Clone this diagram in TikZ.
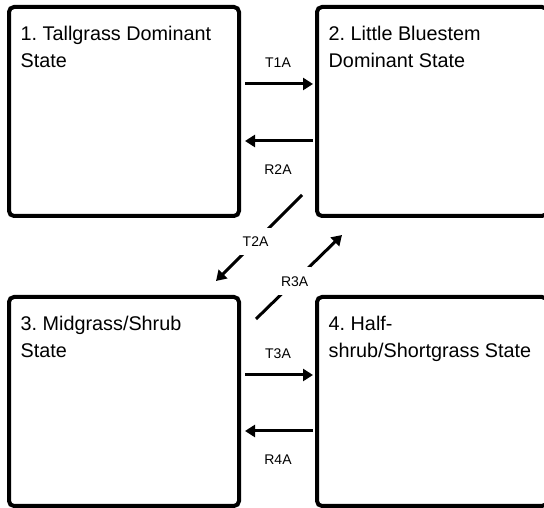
\documentclass[tikz,border=0pt]{standalone}
\usepackage{fontspec}
\setmainfont{Liberation Sans}
\frenchspacing
\usetikzlibrary{arrows.meta}
\usetikzlibrary{positioning}

\begin{document}
\begin{tikzpicture}[x=1pt,y=1pt,
state/.style={draw, line width=4pt, rounded corners=5pt, minimum width=230pt, minimum height=209pt, inner sep=0pt},
title/.style={anchor=north west, align=left, inner sep=0pt, font=\fontsize{19.8}{26.5}\selectfont},
trans/.style={line width=3pt, -{Triangle[length=10pt,width=12pt]}},
lbl/.style={inner sep=0pt, font=\fontsize{14}{16}\selectfont},
gap/.style={fill=white, inner xsep=3pt, inner ysep=9pt}]
\clip (0,0) rectangle (544,508);
% the four states
\node[state] (s1) at (124,396.5) {};
\node[state, right=74pt of s1] (s2) {};
\node[state, below=77pt of s1] (s3) {};
\node[state, right=74pt of s3] (s4) {};
\node[title] (n1) at ([shift={(13.5pt,-21pt)}]s1.north west) {1. Tallgrass Dominant\\State};
\node[title] (n2) at ([shift={(13.5pt,-21pt)}]s2.north west) {2. Little Bluestem\\Dominant State};
\node[title] (n3) at ([shift={(13.5pt,-21pt)}]s3.north west) {3. Midgrass/Shrub\\State};
\node[title] (n4) at ([shift={(13.5pt,-21pt)}]s4.north west) {4. Half-\\shrub/Shortgrass State};
% transitions and restorations
\draw[trans, shorten <=4pt, shorten >=2pt] ([yshift=27.5pt]s1.east) -- ([yshift=27.5pt]s2.west) node[lbl, midway, above=15pt] (t1a) {T1A};
\draw[trans, shorten <=2pt, shorten >=4pt] ([yshift=-29.5pt]s2.west) -- ([yshift=-29.5pt]s1.east) node[lbl, midway, below=22pt] (r2a) {R2A};
\draw[trans, shorten <=4pt, shorten >=2pt] ([yshift=26.5pt]s3.east) -- ([yshift=26.5pt]s4.west) node[lbl, midway, above=15pt] (t3a) {T3A};
\draw[trans, shorten <=2pt, shorten >=4pt] ([yshift=-29.5pt]s4.west) -- ([yshift=-29.5pt]s3.east) node[lbl, midway, below=22pt] (r4a) {R4A};
\draw[trans] ([shift={(-13pt,23pt)}]s2.south west) -- ([shift={(-25pt,14pt)}]s3.north east) node[lbl, gap, pos=0.54] (t2a) {T2A};
\draw[trans] ([shift={(15pt,-24pt)}]s3.north east) -- ([shift={(27pt,-17pt)}]s2.south west) node[lbl, gap, pos=0.45] (r3a) {R3A};
\end{tikzpicture}
\end{document}
